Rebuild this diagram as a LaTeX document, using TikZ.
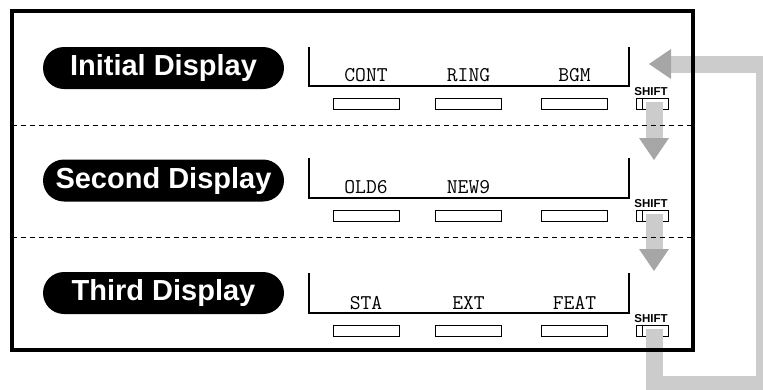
\documentclass[tikz,border=0pt]{standalone}
\usepackage{fontspec}
\setmainfont{Liberation Sans}
\usetikzlibrary{arrows.meta}
\definecolor{shaftgray}{HTML}{CCCCCC}
\definecolor{headgray}{HTML}{A6A6A6}

\begin{document}
\begin{tikzpicture}[
  x=1pt, y=-1pt,
  pill/.style={fill=black, text=white, rounded corners=21pt, minimum width=241pt, minimum height=42pt, inner sep=0pt, font=\fontsize{29}{30}\selectfont\bfseries},
  lcd/.style={line width=2.2pt},
  lbl/.style={anchor=base, inner sep=0pt, font=\ttfamily\fontsize{21}{22}\selectfont},
  key/.style={draw, line width=1pt, minimum width=66pt, minimum height=11pt, inner sep=0pt},
  shiftkey/.style={key, minimum width=32pt},
  shlbl/.style={anchor=base, inner sep=0pt, font=\bfseries\fontsize{11.5}{12}\selectfont},
  frm/.style={draw, line width=4pt, minimum width=681.5pt, minimum height=339.5pt, inner sep=0pt, outer sep=0pt},
  sep/.style={line width=1pt, dash pattern=on 5pt off 4pt},
  shaft/.style={draw=shaftgray, line width=17pt, line join=miter, -{Triangle[length=22pt, width=30pt, line width=0pt, color=headgray]}},
]
\useasboundingbox (0,0) rectangle (763,389);
\clip (0,0) rectangle (763,389);

% ---- initial display
\node[pill] (p1) at (163.5,68) {Initial Display};
\draw[lcd] (309,47) |- (629,86) -- (629,47);
\node[lbl] (l1a) at (366,81.7) {CONT};
\node[lbl] (l1b) at (468.5,81.7) {RING};
\node[lbl] (l1c) at (574.5,81.7) {BGM};
\foreach \x/\n in {366/a,468.5/b,574.5/c} \node[key] (k1\n) at (\x,103.5) {};
\node[shiftkey] (sh1) at (652,103.5) {};
\draw ([xshift=7pt]sh1.north west) -- ([xshift=7pt]sh1.south west);
\node[shlbl] (s1) at (651,95) {SHIFT};

% ---- second display
\node[pill] (p2) at (163.5,180.5) {Second Display};
\draw[lcd] (309,158) |- (629,198) -- (629,158);
\node[lbl] (l2a) at (366,193.5) {OLD6};
\node[lbl] (l2b) at (468.5,193.5) {NEW9};
\foreach \x/\n in {366/a,468.5/b,574.5/c} \node[key] (k2\n) at (\x,215.5) {};
\node[shiftkey] (sh2) at (652,215.5) {};
\draw ([xshift=7pt]sh2.north west) -- ([xshift=7pt]sh2.south west);
\node[shlbl] (s2) at (651,207) {SHIFT};

% ---- third display
\node[pill] (p3) at (163.5,293) {Third Display};
\draw[lcd] (309,273) |- (629,313) -- (629,273);
\node[lbl] (l3a) at (366,309) {STA};
\node[lbl] (l3b) at (468.5,309) {EXT};
\node[lbl] (l3c) at (574.5,309) {FEAT};
\foreach \x/\n in {366/a,468.5/b,574.5/c} \node[key] (k3\n) at (\x,330.5) {};
\node[shiftkey] (sh3) at (652,330.5) {};
\draw ([xshift=7pt]sh3.north west) -- ([xshift=7pt]sh3.south west);
\node[shlbl] (s3) at (651,322) {SHIFT};

% ---- shift cycle
\coordinate (t1) at (654,160);
\coordinate (t2) at (654,271);
\coordinate (lp) at (764.5,384.5);
\coordinate (t0) at (649,64);
\draw[shaft] ([xshift=2pt,yshift=1.5pt]sh1.center) -- (t1);
\draw[shaft] ([xshift=2pt,yshift=1.5pt]sh2.center) -- (t2);
\draw[shaft] ([xshift=2pt,yshift=1.5pt]sh3.center) |- (lp) |- (t0);

% ---- frame and separators
\node[frm] (frame) at (352.25,180.25) {};
\coordinate (d1) at (0,125);
\coordinate (d2) at (0,237);
\draw[sep] (frame.west |- d1) -- (frame.east |- d1);
\draw[sep] (frame.west |- d2) -- (frame.east |- d2);
\end{tikzpicture}
\end{document}
